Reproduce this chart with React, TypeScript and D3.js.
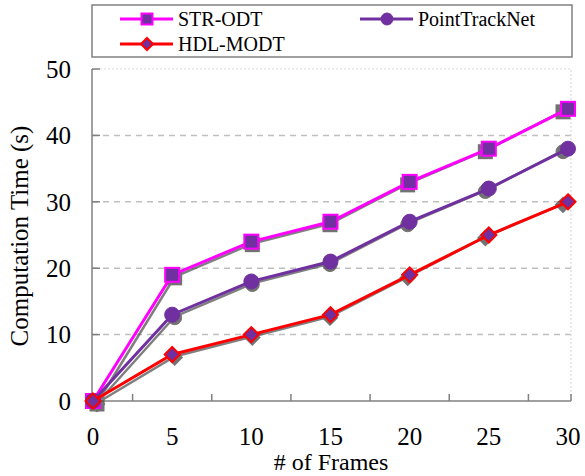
import React, { useEffect, useRef } from 'react';
import * as d3 from 'd3';

const frames = [0, 5, 10, 15, 20, 25, 30];
const strOdt = [0, 19, 24, 27, 33, 38, 44];
const pointTrackNet = [0, 13, 18, 21, 27, 32, 38];
const hdlModt = [0, 7, 10, 13, 19, 25, 30];
const yTicks = [0, 10, 20, 30, 40, 50];
const xTicks = [0, 5, 10, 15, 20, 25, 30];
const xMinorTicks = [2.5, 7.5, 12.5, 17.5, 22.5, 27.5];

const FONT = "'Liberation Serif', 'DejaVu Serif', serif";
const PURPLE = '#7030a0';

type Series = { name: string; values: number[]; line: string; marker: 'square' | 'circle' | 'diamond'; stroke: string };

const series: Series[] = [
  { name: 'STR-ODT', values: strOdt, line: '#ff00ff', marker: 'square', stroke: '#ff00ff' },
  { name: 'PointTrackNet', values: pointTrackNet, line: PURPLE, marker: 'circle', stroke: PURPLE },
  { name: 'HDL-MODT', values: hdlModt, line: '#ff0000', marker: 'diamond', stroke: '#ff0000' },
];

const App: React.FC = () => {
  const width = 585;
  const height = 476;
  const left = 92, right = 571, top = 69, bottom = 401;

  const x = d3.scaleLinear().domain([0, 30]).range([93, 568]);
  const xShadow = d3.scaleLinear().domain([0, 30]).range([97, 563]);
  const y = d3.scaleLinear().domain([0, 50]).range([bottom, top]);
  const axisColor = '#808080';

  const marker = (kind: string, cx: number, cy: number, fill: string, stroke: string, s: number, key: string) => {
    if (kind === 'square') {
      return <rect key={key} x={cx - s} y={cy - s} width={2 * s} height={2 * s} fill={fill} stroke={stroke} strokeWidth={2} />;
    }
    if (kind === 'circle') {
      return <circle key={key} cx={cx} cy={cy} r={s} fill={fill} stroke={stroke} strokeWidth={1} />;
    }
    return <path key={key} d={`M${cx},${cy - s}L${cx + s},${cy}L${cx},${cy + s}L${cx - s},${cy}Z`} fill={fill} stroke={stroke} strokeWidth={2} />;
  };

  const sizes: Record<string, number> = { square: 7, circle: 7.5, diamond: 7.5 };
  const slots = [
    { lx: 120, ly: 19 },
    { lx: 360, ly: 19 },
    { lx: 120, ly: 44 },
  ];

  return (
    <svg width={width} height={height} fontFamily={FONT} style={{ position: 'absolute', left: 0, top: 0, fontFamily: FONT }}>
      {yTicks.filter(d => d > 0 && d < 50).map(d => (
        <line key={'g' + d} x1={left} x2={right} y1={y(d)} y2={y(d)} stroke="#bfbfbf" strokeWidth={1.5} strokeDasharray="6,5" />
      ))}
      <path d={`M${left},${top}H${right}V${bottom}`} fill="none" stroke="#d9d9d9" strokeWidth={1.2} strokeDasharray="2,2" />
      <line x1={left} x2={left} y1={top} y2={bottom} stroke={axisColor} strokeWidth={1.5} />
      <line x1={left} x2={right} y1={bottom} y2={bottom} stroke={axisColor} strokeWidth={1.5} />
      {yTicks.map(d => (
        <line key={'yt' + d} x1={left} x2={left + 8} y1={y(d)} y2={y(d)} stroke={axisColor} strokeWidth={1.5} />
      ))}
      {xMinorTicks.map(d => (
        <line key={'xt' + d} x1={x(d)} x2={x(d)} y1={bottom} y2={bottom - 7} stroke={axisColor} strokeWidth={1.5} />
      ))}
      <line x1={right} x2={right} y1={bottom} y2={bottom - 7} stroke={axisColor} strokeWidth={1.5} />
      {yTicks.map(d => (
        <text key={'yl' + d} x={71} y={y(d)} dy="0.35em" textAnchor="end" fontSize={25}>{d}</text>
      ))}
      {xTicks.map(d => (
        <text key={'xl' + d} x={x(d)} y={445} textAnchor="middle" fontSize={25}>{d}</text>
      ))}
      <text x={331} y={470} textAnchor="middle" fontSize={24}># of Frames</text>
      <text transform="translate(28,236) rotate(-90)" textAnchor="middle" fontSize={25}>Computation Time (s)</text>

      <g opacity={0.75}>
        {series.map(s => {
          const line = d3.line<number>().x((_, i) => xShadow(frames[i])).y(d => y(d) + 2);
          return (
            <g key={'sh' + s.name}>
              <path d={line(s.values) || ''} fill="none" stroke="#555555" strokeWidth={2.5} />
              {s.values.map((v, i) => marker(s.marker, xShadow(frames[i]), y(v) + 3, '#444444', '#444444', sizes[s.marker] - 0.5, 'm' + i))}
            </g>
          );
        })}
      </g>
      {series.map(s => {
        const line = d3.line<number>().x((_, i) => x(frames[i])).y(d => y(d));
        return (
          <g key={s.name}>
            <path d={line(s.values) || ''} fill="none" stroke={s.line} strokeWidth={3} />
            {s.values.map((v, i) => marker(s.marker, x(frames[i]), y(v), PURPLE, s.stroke, sizes[s.marker], 'm' + i))}
          </g>
        );
      })}

      <rect x={92} y={5} width={480} height={52} fill="white" stroke={axisColor} strokeWidth={1.5} />
      {series.map((s, i) => {
        const { lx, ly } = slots[i];
        return (
          <g key={'lg' + s.name}>
            <line x1={lx} x2={lx + 53} y1={ly} y2={ly} stroke={s.line} strokeWidth={3} />
            {marker(s.marker, lx + 27, ly, PURPLE, s.stroke, s.marker === 'square' ? 5.5 : 6, 'lm')}
            <text x={lx + 58} y={ly} dy="0.35em" fontSize={20}>{s.name}</text>
          </g>
        );
      })}
    </svg>
  );
};

export default App;
